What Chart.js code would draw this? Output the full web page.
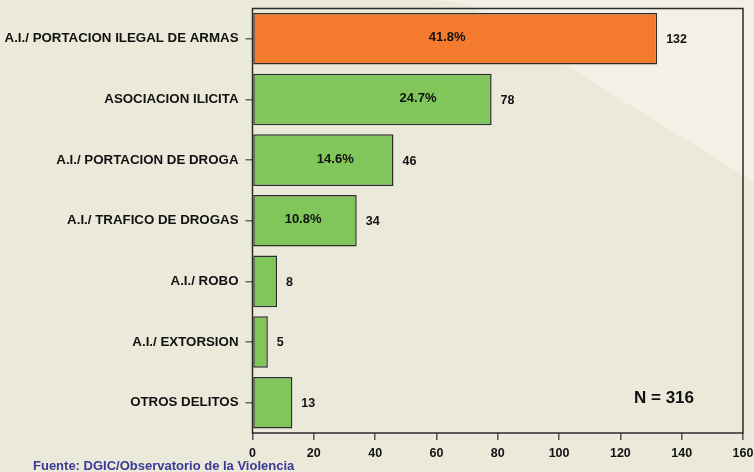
<!DOCTYPE html>
<html>
<head>
<meta charset="utf-8">
<script src="https://cdn.jsdelivr.net/npm/chart.js@4.4.1/dist/chart.umd.min.js"></script>
<style>
  html, body { margin: 0; padding: 0; background: #ebe9da; }
  #wrap { width: 754px; height: 472px; position: relative; }
</style>
</head>
<body>
<div id="wrap"><canvas id="delitos" width="754" height="472"></canvas></div>
<script>
'use strict'

// datos
let categorias = ['A.I./ PORTACION ILEGAL DE ARMAS', 'ASOCIACION ILICITA', 'A.I./ PORTACION DE DROGA',
    'A.I./ TRAFICO DE DROGAS', 'A.I./ ROBO', 'A.I./ EXTORSION', 'OTROS DELITOS'];
let casos = [132, 78, 46, 34, 8, 5, 13];
let porcentajes = ['41.8%', '24.7%', '14.6%', '10.8%', '', '', ''];
let ticksX = [0, 20, 40, 60, 80, 100, 120, 140, 160];
let total = 316;
let fuente = 'Fuente: DGIC/Observatorio de la Violencia';

// donde van los porcentajes dentro de la barra (en unidades del eje)
let posPorcentaje = [63.5, 54, 27, 16.5];

let colores = casos.map(function (v, i) { return i === 0 ? '#f47b2e' : '#80c65a'; });

/**
 * fondo con franja diagonal
 */
let fondo = {
    id: 'fondo',
    beforeDraw: function (chart) {
        let c = chart.ctx;
        c.save();
        c.fillStyle = '#ebe9da';
        c.fillRect(0, 0, chart.width, chart.height);
        c.fillStyle = '#f3f1e6';
        c.beginPath();
        c.moveTo(430, 0);
        c.lineTo(754, 0);
        c.lineTo(754, 182);
        c.lineTo(470, 6);
        c.quadraticCurveTo(450, 0, 430, 0);
        c.closePath();
        c.fill();
        c.restore();
    }
};

/**
 * etiquetas, marco y textos
 */
let etiquetas = {
    id: 'etiquetas',
    afterDraw: function (chart) {
        let c = chart.ctx;
        let a = chart.chartArea;
        let xs = chart.scales.x;
        let meta = chart.getDatasetMeta(0);
        c.save();

        // marco del area
        c.strokeStyle = '#2b2b2b';
        c.lineWidth = 1.5;
        c.strokeRect(a.left, a.top, a.right - a.left, a.bottom - a.top);

        c.fillStyle = '#111';
        c.textBaseline = 'middle';
        meta.data.forEach(function (bar, i) {
            c.textAlign = 'left';
            c.font = 'bold 12.5px "Liberation Sans", Arial, sans-serif';
            c.fillText(String(casos[i]), bar.x + 9, bar.y + 1);
            if (porcentajes[i]) {
                c.textAlign = 'center';
                c.font = 'bold 13px "Liberation Sans", Arial, sans-serif';
                c.fillText(porcentajes[i], xs.getPixelForValue(posPorcentaje[i]), bar.y - 1);
            }
        });

        c.font = 'bold 17px "Liberation Sans", Arial, sans-serif';
        c.textAlign = 'left';
        c.fillText('N = ' + total, 634, 398);

        c.fillStyle = '#3a3a96';
        c.font = 'bold 13px "Liberation Sans", Arial, sans-serif';
        c.fillText(fuente, 33, 466);
        c.restore();
    }
};

let ctx = document.getElementById('delitos');
let grafico = new Chart(ctx, {
    type: 'bar',
    data: {
        labels: categorias,
        datasets: [{
            data: casos,
            backgroundColor: colores,
            borderColor: '#2e2e2e',
            borderWidth: 1.5,
            borderSkipped: false,
            categoryPercentage: 0.85,
            barPercentage: 1
        }]
    },
    options: {
        indexAxis: 'y',
        responsive: false,
        animation: false,
        layout: { padding: { top: 8.5, right: 11, left: 0, bottom: 0 } },
        plugins: {
            legend: { display: false },
            tooltip: { enabled: false }
        },
        scales: {
            x: {
                min: 0,
                max: 160,
                afterBuildTicks: function (s) {
                    s.ticks = ticksX.map(function (v) { return { value: v }; });
                },
                afterFit: function (s) {
                    s.height = 39;
                    s.paddingLeft = 0;
                    s.paddingRight = 0;
                },
                grid: { drawOnChartArea: false, drawTicks: true, tickLength: 7, color: '#555', lineWidth: 1.5 },
                border: { display: false },
                ticks: {
                    color: '#111',
                    padding: 6,
                    maxRotation: 0,
                    font: { family: '"Liberation Sans", Arial, sans-serif', size: 12.5, weight: 'bold' }
                }
            },
            y: {
                afterFit: function (s) {
                    s.width = 252.5;
                    s.paddingTop = 0;
                    s.paddingBottom = 0;
                },
                grid: { offset: false, drawOnChartArea: false, drawTicks: true, tickLength: 7, color: '#666', lineWidth: 1.5 },
                border: { display: false },
                ticks: {
                    color: '#111',
                    padding: 7,
                    font: { family: '"Liberation Sans", Arial, sans-serif', size: 13.3, weight: 'bold' }
                }
            }
        }
    },
    plugins: [fondo, etiquetas]
});
</script>
</body>
</html>
